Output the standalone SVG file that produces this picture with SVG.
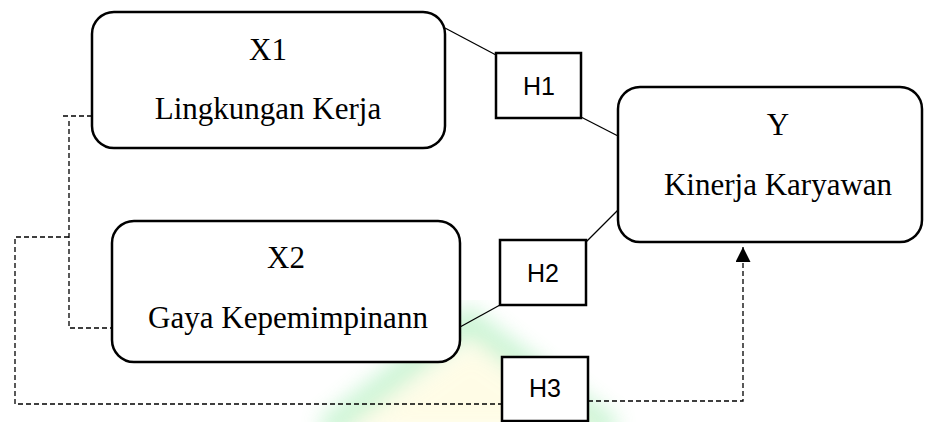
<svg xmlns="http://www.w3.org/2000/svg" width="925" height="422" viewBox="0 0 925 422">
  <defs>
    <style>
      .node { fill: #ffffff; stroke: #000000; stroke-width: 2.5; }
      .hyp { fill: #ffffff; stroke: #000000; stroke-width: 2.5; }
      .title { font-family: "Liberation Serif", "Times New Roman", serif; font-size: 31px; fill: #000000; text-anchor: middle; }
      .hlabel { font-family: "Liberation Sans", Arial, sans-serif; font-size: 25px; fill: #000000; text-anchor: middle; }
      .solid { fill: none; stroke: #000000; stroke-width: 1.3; }
      .dash { fill: none; stroke: #000000; stroke-width: 1.3; stroke-dasharray: 5 3; }
    </style>
    <marker id="arrow" viewBox="0 0 10 10" refX="10" refY="5" markerWidth="15" markerHeight="15" markerUnits="userSpaceOnUse" orient="auto">
      <path d="M0,0 L10,5 L0,10 Z" fill="#000000"/>
    </marker>
    <filter id="soft" x="-20%" y="-20%" width="140%" height="140%">
      <feGaussianBlur stdDeviation="10"/>
    </filter>
  </defs>

  <rect width="925" height="422" fill="#ffffff"/>

  <!-- faint background emblem -->
  <g id="emblem" filter="url(#soft)" opacity="0.28">
    <polygon points="470,345 590,432 350,432" fill="#fff6a8"/>
    <polyline points="325,432 468,322 612,432" fill="none" stroke="#4fdc6e" stroke-width="28"/>
  </g>

  <!-- connectors -->
  <g id="connectors">
    <line class="solid" x1="445" y1="28" x2="496" y2="55"/>
    <line class="solid" x1="581" y1="117" x2="618" y2="136"/>
    <line class="solid" x1="618" y1="210" x2="586" y2="242"/>
    <line class="solid" x1="500" y1="305" x2="460" y2="327"/>

    <polyline class="dash" points="92,116 63,116"/>
    <polyline class="dash" points="69,121 69,328 112,328"/>
    <polyline class="dash" points="69,237 15,237 15,404 502,404"/>
    <polyline class="dash" points="588,401 743,401 743,247" marker-end="url(#arrow)"/>
  </g>

  <g id="x1">
    <rect class="node" x="92" y="12" width="353" height="136" rx="22"/>
    <text class="title" x="268" y="60">X1</text>
    <text class="title" x="268" y="119">Lingkungan Kerja</text>
  </g>

  <g id="x2">
    <rect class="node" x="112" y="221" width="348" height="141" rx="22"/>
    <text class="title" x="286" y="268">X2</text>
    <text class="title" x="288" y="328">Gaya Kepemimpinann</text>
  </g>

  <g id="y">
    <rect class="node" x="618" y="87" width="304" height="155" rx="22"/>
    <text class="title" x="778" y="135">Y</text>
    <text class="title" x="778" y="195">Kinerja Karyawan</text>
  </g>

  <g id="h1">
    <rect class="hyp" x="496" y="53" width="85" height="65"/>
    <text class="hlabel" x="539" y="95">H1</text>
  </g>

  <g id="h2">
    <rect class="hyp" x="500" y="240" width="86" height="65"/>
    <text class="hlabel" x="543" y="282">H2</text>
  </g>

  <g id="h3">
    <rect class="hyp" x="502" y="357" width="86" height="64"/>
    <text class="hlabel" x="545" y="397">H3</text>
  </g>
</svg>
